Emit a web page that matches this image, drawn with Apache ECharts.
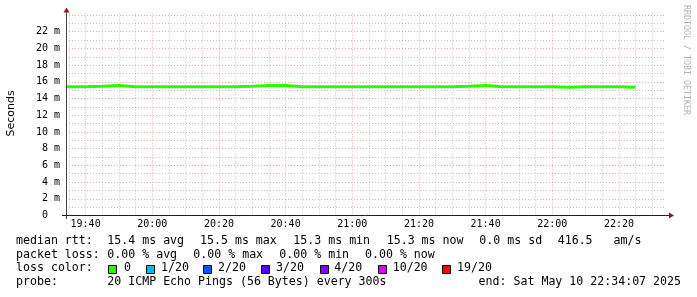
<!DOCTYPE html>
<html>
<head>
<meta charset="utf-8">
<script src="https://cdn.jsdelivr.net/npm/echarts@6/dist/echarts.min.js"></script>
<style>
html,body{margin:0;padding:0;background:#fff;}
#chart{width:697px;height:297px;}
</style>
</head>
<body>
<div id="chart"></div>
<script>
// ---- data ----
const startTime = '19:34:07';
const endTime = '22:34:07';
const stepStarts = ['19:34:07','19:40','19:45','19:50','19:55','20:00','20:05','20:10','20:15','20:20',
  '20:25','20:30','20:35','20:40','20:45','20:50','20:55','21:00','21:05','21:10','21:15','21:20','21:25',
  '21:30','21:35','21:40','21:45','21:50','21:55','22:00','22:05','22:10','22:15','22:20','22:25'];
const medianMs = [15.40,15.47,15.55,15.40,15.40,15.40,15.40,15.40,15.40,15.40,
  15.47,15.55,15.55,15.40,15.40,15.40,15.40,15.40,15.40,15.40,15.40,15.40,15.40,
  15.47,15.55,15.40,15.40,15.40,15.40,15.35,15.40,15.40,15.40,15.35,15.35];
const smokeStarts = ['22:00','22:05'];
const smokeLowMs = [15.35,15.35];
const smokeHighMs = [15.55,15.55];
const xTickLabels = ['19:40','20:00','20:20','20:40','21:00','21:20','21:40','22:00','22:20'];
const yTickValues = [0,2,4,6,8,10,12,14,16,18,20,22];
const yTickLabels = ['0  ','2 m','4 m','6 m','8 m','10 m','12 m','14 m','16 m','18 m','20 m','22 m'];
const statLine1 = ['median rtt:','15.4 ms avg','15.5 ms max','15.3 ms min','15.3 ms now','0.0 ms sd','416.5   am/s'];
const statLine2 = ['packet loss:','0.00 % avg','0.00 % max','0.00 % min','0.00 % now'];
const lossLabels = ['0','1/20','2/20','3/20','4/20','10/20','19/20'];
const lossColors = ['#26ff00','#00b8ff','#0059ff','#5e00ff','#7e00ff','#dd00ff','#ff0000'];
const probeText = ['probe:','20 ICMP Echo Pings (56 Bytes) every 300s'];
const endText = 'end: Sat May 10 22:34:07 2025';

// ---- helpers ----
function toMin(s){const p=s.split(':').map(Number);return p[0]*60+p[1]+(p[2]||0)/60;}
const xMin = toMin(startTime), xMax = toMin(endTime);
const lineData = stepStarts.map((t,i)=>[toMin(t), medianMs[i]]);
const smokeBase = smokeStarts.map((t,i)=>[toMin(t), smokeLowMs[i]]);
const smokeBand = smokeStarts.map((t,i)=>[toMin(t), smokeHighMs[i]-smokeLowMs[i]]);
const majorSet = new Set(xTickLabels.map(toMin));
const gridTimes = [];
for (let m = Math.ceil(xMin/5)*5; m < xMax; m += 5) gridTimes.push(m);
const MINOR = 'rgba(150,150,150,0.55)';
const MAJOR = 'rgba(225,90,90,0.5)';
const yLabelMap = {}; yTickValues.forEach((v,i)=>yLabelMap[v]=yTickLabels[i]);
function fmtHM(v){const h=Math.floor(v/60), m=Math.round(v-h*60);return (h<10?'0':'')+h+':'+(m<10?'0':'')+m;}

// ---- layout (styling only) ----
const MONO = '"DejaVu Sans Mono", monospace';
const F = '11.6px ' + MONO;
const row1X = [16,107.3,200,293.3,386.7,479.3,557.7];
const row2X = [16,107.3,193.3,279.3,365];
const rowY = [240.9,254.5,268.4,282.2];
const sqX = [108.5,146.5,203.5,261.5,320.5,378.5,442.5];
const lbX = [124,161,218,276,334.3,392.7,457];

const graphics = [];
function txt(s,x,y,extra){graphics.push(Object.assign({type:'text',x:x,y:y,silent:true,
  style:{text:s,font:F,fill:'#000',textAlign:'left',textVerticalAlign:'middle'}},extra||{}));}
statLine1.forEach((s,i)=>txt(s,row1X[i],rowY[0]));
statLine2.forEach((s,i)=>txt(s,row2X[i],rowY[1]));
txt('loss color:',16,rowY[2]);
lossLabels.forEach((s,i)=>{
  graphics.push({type:'rect',silent:true,shape:{x:sqX[i],y:265.5,width:8,height:8},
    style:{fill:lossColors[i],stroke:'#000',lineWidth:1}});
  txt(s,lbX[i],rowY[2]);
});
txt(probeText[0],16,rowY[3]);
txt(probeText[1],107.3,rowY[3]);
graphics.push({type:'text',x:681,y:rowY[3],silent:true,style:{text:endText,font:F,fill:'#000',textAlign:'right',textVerticalAlign:'middle'}});
// axis title
graphics.push({type:'text',x:11,y:113.5,rotation:Math.PI/2,silent:true,
  style:{text:'Seconds',font:'11px "DejaVu Sans"',fill:'#000',textAlign:'center',textVerticalAlign:'middle'}});
// watermark
graphics.push({type:'text',x:686,y:60,rotation:-Math.PI/2,silent:true,
  style:{text:'RRDTOOL / TOBI OETIKER',font:'8.3px '+MONO,fill:'#b4b4b4',textAlign:'center',textVerticalAlign:'middle'}});
// axes lines and arrows
graphics.push({type:'line',silent:true,z:100,shape:{x1:66.5,y1:219,x2:66.5,y2:12},style:{stroke:'#444',lineWidth:1}});
graphics.push({type:'line',silent:true,z:100,shape:{x1:62,y1:215.5,x2:669,y2:215.5},style:{stroke:'#1f1f1f',lineWidth:1}});
graphics.push({type:'polygon',silent:true,z:101,shape:{points:[[63.5,12.5],[69.5,12.5],[66.5,7.5]]},style:{fill:'#801f1f'}});
graphics.push({type:'polygon',silent:true,z:101,shape:{points:[[669,212.5],[669,218.5],[674,215.5]]},style:{fill:'#801f1f'}});

const chart = echarts.init(document.getElementById('chart'), null, {renderer:'canvas'});
chart.setOption({
  animation:false,
  backgroundColor:'#fff',
  grid:{left:66,top:12.5,width:600,height:203,containLabel:false},
  xAxis:{type:'value',min:xMin,max:xMax,
    axisLine:{show:false},axisTick:{show:false},splitLine:{show:false},
    axisLabel:{customValues:xTickLabels.map(toMin),formatter:v=>fmtHM(v),margin:4,
      fontFamily:'DejaVu Sans Mono',fontSize:10,color:'#000'}},
  yAxis:{type:'value',min:0,max:24.3,interval:1,
    axisLine:{show:false},axisTick:{show:false},
    axisLabel:{formatter:v=>(v in yLabelMap?yLabelMap[v]:''),margin:6,
      fontFamily:'DejaVu Sans Mono',fontSize:10,color:'#000'},
    splitLine:{show:true,showMaxLine:false,lineStyle:{color:[MAJOR,MINOR],type:[1,2],width:1}}},
  graphic:graphics,
  series:[
    {type:'line',name:'vgrid',data:[],silent:true,z:1,symbol:'none',
      markLine:{silent:true,symbol:['none','none'],label:{show:false},animation:false,
        data:gridTimes.map(t=>({xAxis:t,lineStyle:{color:majorSet.has(t)?MAJOR:MINOR,type:[1,2],width:1}}))}},
    {type:'line',name:'smokebase',data:smokeBase,stack:'smoke',step:'end',symbol:'none',silent:true,z:2,
      lineStyle:{opacity:0}},
    {type:'line',name:'smoke',data:smokeBand,stack:'smoke',step:'end',symbol:'none',silent:true,z:2,
      lineStyle:{opacity:0},areaStyle:{color:'#e4e4e4',opacity:1}},
    {type:'line',name:'median',data:lineData,step:'end',symbol:'none',silent:true,z:3,
      lineStyle:{color:'#26ff00',width:3}}
  ]
});
</script>
</body>
</html>
